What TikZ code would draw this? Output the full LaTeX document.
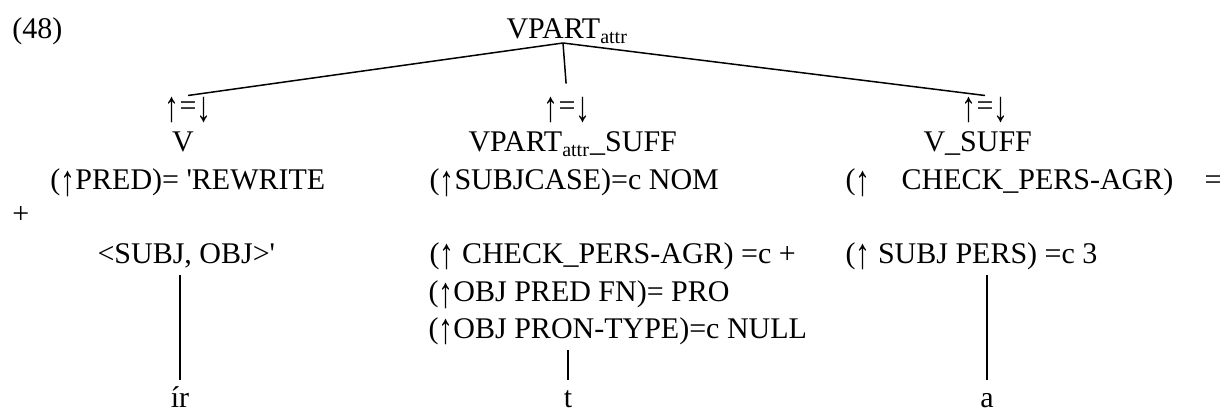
\documentclass[tikz,border=0pt]{standalone}
\usepackage{fontspec}
\setmainfont{Liberation Serif}
\usepackage{tikz}
\usetikzlibrary{positioning}
\newcommand{\upar}{\raisebox{-0.18em}{\resizebox*{\width}{0.85em}{↑}}}
\newcommand{\dnar}{\raisebox{-0.18em}{\resizebox*{\width}{0.85em}{↓}}}

\begin{document}
\begin{tikzpicture}[x=0.4pt,y=-0.4pt]
        \tikzstyle{word}=[inner sep=0pt,anchor=base west,text height=0.7em,text depth=0.25em,font=\fontsize{12}{14}\selectfont]
        \tikzstyle{mid}=[word,anchor=base]
        \tikzstyle{branch}=[draw,line width=0.6pt]
        \tikzstyle{stem}=[draw,line width=0.45pt,shorten <=2pt,shorten >=3.6pt]
        \useasboundingbox (0,0) rectangle (1224,412);
       \begin{scope}
         % root and its daughters
         \node [word] (ex) at (12,39) {(48)};
         \node [word] (root) at (506,39) {VPART\textsubscript{attr}};
         \coordinate (top) at (563,43);
         \node [mid,text height=0.8em] (eqL) at (188,116) {\upar=\dnar};
         \node [mid,text height=0.8em] (eqM) at (567,116) {\upar=\dnar};
         \node [mid,text height=0.8em] (eqR) at (985,116) {\upar=\dnar};
         \node [mid] (catL) at (183,152) {V};
         \node [word] (catM) at (468,152) {VPART\textsubscript{attr}\_SUFF};
         \node [word] (catR) at (923,152) {V\_SUFF};
         % equations
         \node [word] (predL) at (50,190) {(\upar PRED)= \textquotesingle REWRITE};
         \node [word] (plus) at (12,223) {+};
         \node [word] (sobj) at (97,263) {<SUBJ, OBJ>\textquotesingle};
         \node [word] (scase) at (429,190) {(\upar SUBJCASE)=c NOM};
         \node [word] (agrM) at (429,263) {(\upar\ CHECK\_PERS-AGR) =c +};
         \node [word] (predfn) at (428,302) {(\upar OBJ PRED FN)= PRO};
         \node [word] (pron) at (428,338) {(\upar OBJ PRON-TYPE)=c NULL};
         \node [word] (agrR) at (845,190) {\makebox[150.4pt][s]{(\upar\ CHECK\_PERS-AGR) =}};
         \node [word] (spers) at (845,263) {(\upar\ SUBJ PERS) =c 3};
         % leaves
         \node [mid] (ir) at (180,407) {ír};
         \node [mid] (t) at (568,407) {t};
         \node [mid] (a) at (987,407) {a};
         \path[branch] (top) -- (eqL.north);
         \path[branch,shorten >=4.8pt] (top) -- (eqM.north);
         \path[branch] (top) -- (eqR.north);
         \path[stem] (ir |- sobj.south) -- (ir.north);
         \path[stem] (t |- pron.south) -- (t.north);
         \path[stem] (a |- spers.south) -- (a.north);
        \end{scope}
      \end{tikzpicture}
\end{document}
